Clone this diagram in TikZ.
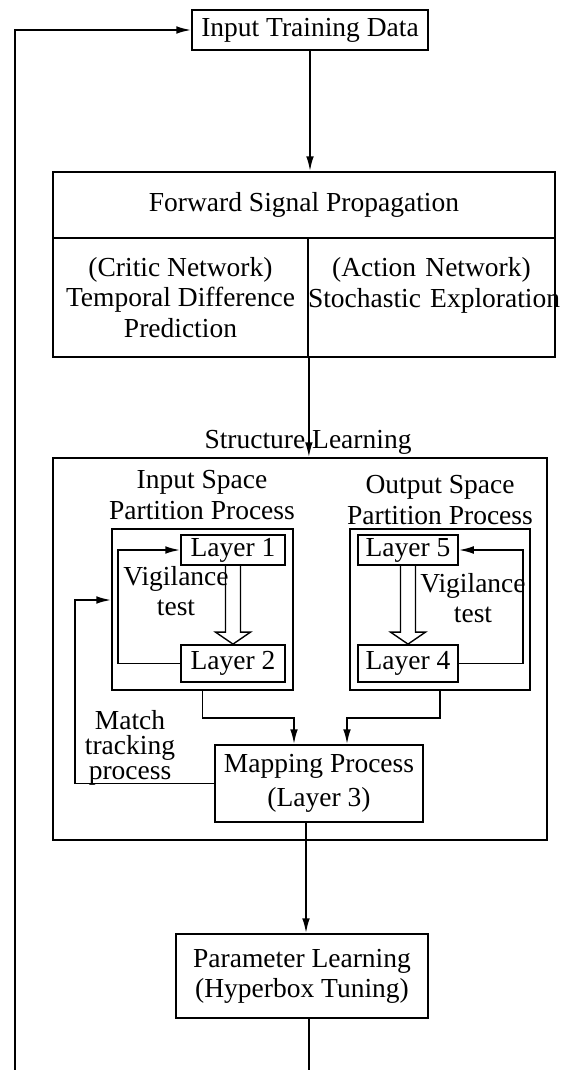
\documentclass[tikz,border=0pt]{standalone}
\usepackage{fontspec}
\setmainfont{Liberation Serif}
\usetikzlibrary{arrows.meta}
\newlength\pxu\setlength\pxu{.3636pt}
\begin{document}
\begin{tikzpicture}[x=\pxu,y=-\pxu,line width=.65pt,font=\fontsize{10}{11}\selectfont,
  blk/.style={draw,inner sep=0pt,align=center},
  arr/.style={-{Latex[length=5.4pt,width=2.8pt]}}]
\useasboundingbox(0,0)rectangle(564,1070);
\node[blk,minimum width=236\pxu,minimum height=40\pxu](inp)at(310,30){Input Training Data};
\node[blk,minimum width=502\pxu,minimum height=66\pxu](fwd)at(304,205){Forward Signal Propagation};
\node[blk,minimum width=255\pxu,minimum height=119\pxu](crit)at(180.5,297.5){(Critic Network)\\Temporal Difference\\Prediction};
\node[blk,text width=247\pxu,minimum height=119\pxu](act)at(431.5,297.5){(Action Network)\\\mbox{Stochastic Exploration}\\\mbox{}};
\node[blk,minimum width=494\pxu,minimum height=382\pxu](sl)at(300,649){};
\node(sllab)at(308,442){Structure Learning};
\node[blk,minimum width=181\pxu,minimum height=161\pxu](inL)at(202.5,609.5){};
\node[blk,minimum width=180\pxu,minimum height=161\pxu](inR)at(440,609.5){};
\node[align=center](inLt)at(202,495){Input Space\\Partition Process};
\node[align=center](inRt)at(440,500){Output Space\\Partition Process};
\node[blk,minimum width=104\pxu,minimum height=30\pxu](l1)at(233,550){Layer 1};
\node[blk,minimum width=104\pxu,minimum height=37\pxu](l2)at(233,663.5){Layer 2};
\node[blk,minimum width=100\pxu,minimum height=30\pxu](l5)at(408,550){Layer 5};
\node[blk,minimum width=100\pxu,minimum height=37\pxu](l4)at(408,663.5){Layer 4};
\node[align=center](vgL)at(176,591){Vigilance\\test};
\node[align=center](vgR)at(473,598){Vigilance\\test};
\node[blk,minimum width=208\pxu,minimum height=77\pxu](map)at(319,783.5){Mapping Process\\[1.5pt](Layer 3)};
\node[align=center,font=\fontsize{10}{9}\selectfont](mt)at(130,748){Match\\tracking\\process};
\node[blk,minimum width=252\pxu,minimum height=84\pxu](par)at(302,976){Parameter Learning\\(Hyperbox Tuning)};
\coordinate(lft)at(15,1070);
\coordinate(bot)at(309,1070);
\foreach\a/\b in{l1/l2,l5/l4}{\draw[line width=.5pt]([xshift=-7.5\pxu]\a.south)--([xshift=-7.5\pxu,yshift=12\pxu]\b.north)--([xshift=-17.5\pxu,yshift=12\pxu]\b.north)--(\b.north)--([xshift=17.5\pxu,yshift=12\pxu]\b.north)--([xshift=7.5\pxu,yshift=12\pxu]\b.north)--([xshift=7.5\pxu]\a.south);}
\draw[arr](lft)|-(inp.west);
\draw[arr](inp.south)--(inp.south|-fwd.north);
\draw[arr](crit.south east)--(crit.south east|-sl.north);
\draw[arr](l2.west)--++(-62,0)|-(l1.west);
\draw[arr](l4.east)--++(64,0)|-(l5.east);
\draw[arr](inL.south)--++(0,27)-|([xshift=-25\pxu]map.north);
\draw[arr](inR.south)--++(0,27)-|([xshift=28\pxu]map.north);
\draw[arr](map.west)--++(-139,0)|-([yshift=9.5\pxu]inL.west);
\draw[arr]([xshift=-13\pxu]map.south)--([xshift=-13\pxu]map.south|-par.north);
\draw(par.south-|bot)--(bot);
\end{tikzpicture}
\end{document}
